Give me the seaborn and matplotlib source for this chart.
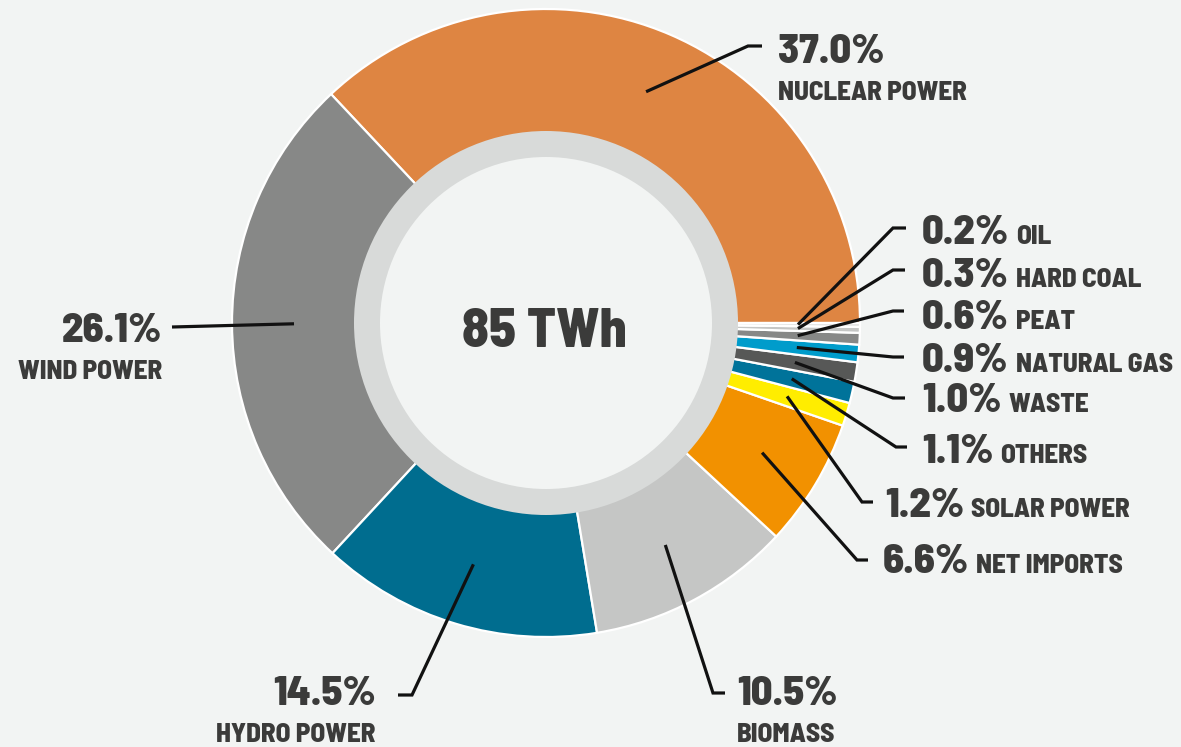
import matplotlib
matplotlib.use("Agg")
import numpy as np
import matplotlib.pyplot as plt
import seaborn as sns
from matplotlib.patches import Circle
from matplotlib import font_manager as fm

# Electricity supply by source, share of total (%)
sources = ["NUCLEAR POWER", "WIND POWER", "HYDRO POWER", "BIOMASS", "NET IMPORTS",
           "SOLAR POWER", "OTHERS", "WASTE", "NATURAL GAS", "PEAT", "HARD COAL", "OIL"]
shares = [37.0, 26.1, 14.5, 10.5, 6.6, 1.2, 1.1, 1.0, 0.9, 0.6, 0.3, 0.2]
colors = ["#de8542", "#878887", "#006d8f", "#c5c6c5", "#f29100", "#ffed00",
          "#00739a", "#575857", "#009ccb", "#878887", "#c5c6c5", "#e3e4e3"]
total_label = "85 TWh"

# Label layout (pixel coordinates, y downwards):
# elbow of the leader, end of the leader, text anchor x, text baseline y, style
layout = {
    "NUCLEAR POWER": ((748, 46), (762, 46), 778, 63, "below_left"),
    "WIND POWER":    ((172, 327), (172, 327), 162, 342, "below_right"),
    "HYDRO POWER":   ((412, 695), (398, 695), 376, 705, "below_right"),
    "BIOMASS":       ((713, 693), (725, 693), 737, 705, "below_left"),
    "NET IMPORTS":   ((857, 560), (868, 560), 883, 573, "inline"),
    "SOLAR POWER":   ((862, 502), (873, 502), 885, 517, "inline"),
    "OTHERS":        ((896, 447), (907, 447), 922, 463, "inline"),
    "WASTE":         ((893, 398), (905, 398), 922, 412, "inline"),
    "NATURAL GAS":   ((893, 357), (904, 357), 922, 372, "inline"),
    "PEAT":          ((893, 311), (904, 311), 922, 329, "inline"),
    "HARD COAL":     ((893, 270), (905, 270), 922, 287, "inline"),
    "OIL":           ((893, 228), (906, 228), 922, 244, "inline"),
}

W, H = 1181, 747
BG = "#f2f4f3"
TXT = "#3b3b3a"
cx, cy = 546, 323
R_OUT, R_IN = 314, 190
R_RING, R_HOLE = 192, 166
R_LEAD = 252

sns.set_theme(style="white")
installed = {f.name for f in fm.fontManager.ttflist}
family = next(f for f in ["Barlow Semi Condensed", "Fira Sans Condensed", "Roboto Condensed",
                          "DejaVu Sans"] if f in installed)
plt.rcParams["font.family"] = [family, "DejaVu Sans"]

fig = plt.figure(figsize=(W / 100, H / 100), dpi=100, facecolor=BG)
ax = fig.add_axes([0, 0, 1, 1])
ax.set_facecolor(BG)

wedges, _ = ax.pie(shares, colors=colors, startangle=0, counterclock=False,
                   radius=R_OUT, center=(cx, cy), frame=True,
                   wedgeprops=dict(width=R_OUT - R_IN, edgecolor="white", linewidth=1.6))
ax.set_xlim(0, W)
ax.set_ylim(H, 0)
ax.set_aspect("equal")
ax.axis("off")

ax.add_patch(Circle((cx, cy), R_RING, facecolor="#d8dad9", edgecolor="none", zorder=3))
ax.add_patch(Circle((cx, cy), R_HOLE, facecolor=BG, edgecolor="none", zorder=4))
ax.text(cx - 2, cy + 24, total_label, ha="center", va="baseline", fontsize=39,
        fontweight=800, color=TXT, zorder=5)

PCT_FS, NAME_FS = 30.5, 19.5
WEIGHT = 800

fig.canvas.draw()
renderer = fig.canvas.get_renderer()
inv = ax.transData.inverted()

for name, pct, w in zip(sources, shares, wedges):
    mid = np.deg2rad((w.theta1 + w.theta2) / 2)
    sx, sy = cx + R_LEAD * np.cos(mid), cy + R_LEAD * np.sin(mid)
    (ex, ey), (hx, hy), tx, ty, style = layout[name]
    ax.plot([sx, ex, hx], [sy, ey, hy], color="#111111", lw=2.3,
            solid_joinstyle="miter", solid_capstyle="butt", zorder=6)
    label = f"{pct:.1f}%"
    if style == "inline":
        t = ax.text(tx, ty, label, ha="left", va="baseline", fontsize=PCT_FS,
                    fontweight=WEIGHT, color=TXT, zorder=6)
        bb = t.get_window_extent(renderer)
        x_end = inv.transform((bb.x1, bb.y0))[0]
        ax.text(x_end + 7, ty, name, ha="left", va="baseline", fontsize=NAME_FS,
                fontweight=WEIGHT, color=TXT, zorder=6)
    else:
        ha = "left" if style == "below_left" else "right"
        ax.text(tx, ty, label, ha=ha, va="baseline", fontsize=PCT_FS,
                fontweight=WEIGHT, color=TXT, zorder=6)
        ax.text(tx, ty + 37, name, ha=ha, va="baseline", fontsize=NAME_FS,
                fontweight=WEIGHT, color=TXT, zorder=6)

fig.savefig("out.png", dpi=100, facecolor=BG)
